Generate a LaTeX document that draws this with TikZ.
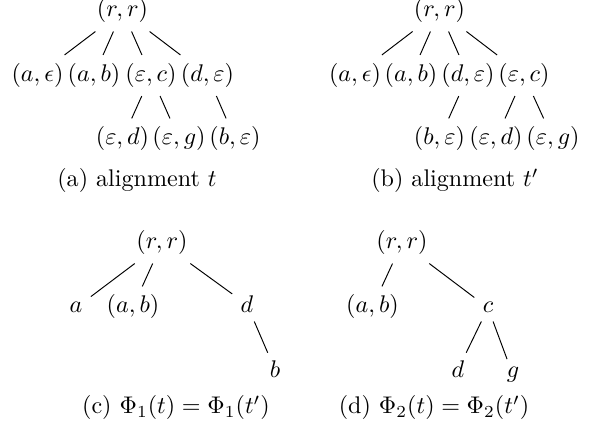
\documentclass[tikz,border=0pt]{standalone}
\begin{document}
\begin{tikzpicture}[x=0.415pt,y=-0.415pt,
  tn/.style={anchor=base,inner sep=3.33pt},
  edge/.style={line width=0.4pt}]
\useasboundingbox (0,0) rectangle (601,428);
% (a)
\node[tn] (a0) at (122.5,17) {$(r,r)$};
\node[tn] (a1) at (37.5,81.5) {$(a,\epsilon)$};
\node[tn] (a2) at (94,81.5) {$(a,b)$};
\node[tn] (a3) at (151,81.5) {$(\varepsilon,c)$};
\node[tn] (a4) at (207.5,81.5) {$(d,\varepsilon)$};
\node[tn] (a5) at (122.5,145) {$(\varepsilon,d)$};
\node[tn] (a6) at (179,145) {$(\varepsilon,g)$};
\node[tn] (a7) at (235,145) {$(b,\varepsilon)$};
\node[anchor=base] (capa) at (137,187) {(a) alignment $t$};
\foreach \c in {a1,a2,a3,a4} \draw[edge] (a0) -- (\c);
\draw[edge] (a3) -- (a5);
\draw[edge] (a3) -- (a6);
\draw[edge] (a4) -- (a7);
% (b)
\node[tn] (b0) at (439.5,17) {$(r,r)$};
\node[tn] (b1) at (355,81.5) {$(a,\epsilon)$};
\node[tn] (b2) at (411,81.5) {$(a,b)$};
\node[tn] (b3) at (468,81.5) {$(d,\varepsilon)$};
\node[tn] (b4) at (524,81.5) {$(\varepsilon,c)$};
\node[tn] (b5) at (439.5,145) {$(b,\varepsilon)$};
\node[tn] (b6) at (496,145) {$(\varepsilon,d)$};
\node[tn] (b7) at (553,145) {$(\varepsilon,g)$};
\node[anchor=base] (capb) at (455,187) {(b) alignment $t'$};
\foreach \c in {b1,b2,b3,b4} \draw[edge] (b0) -- (\c);
\draw[edge] (b3) -- (b5);
\draw[edge] (b4) -- (b6);
\draw[edge] (b4) -- (b7);
% (c)
\node[tn] (c0) at (162,249) {$(r,r)$};
\node[tn] (c1) at (76,313) {$a$};
\node[tn] (c2) at (133,313) {$(a,b)$};
\node[tn] (c3) at (247,313) {$d$};
\node[tn] (c4) at (275,378) {$b$};
\node[anchor=base] (capc) at (176,414) {(c) $\Phi_1(t)=\Phi_1(t')$};
\foreach \c in {c1,c2,c3} \draw[edge] (c0) -- (\c);
\draw[edge] (c3) -- (c4);
% (d)
\node[tn] (d0) at (402,249) {$(r,r)$};
\node[tn] (d1) at (372.5,313) {$(a,b)$};
\node[tn] (d2) at (488,313) {$c$};
\node[tn] (d3) at (458,378) {$d$};
\node[tn] (d4) at (513,378) {$g$};
\node[anchor=base] (capd) at (434,414) {(d) $\Phi_2(t)=\Phi_2(t')$};
\draw[edge] (d0) -- (d1);
\draw[edge] (d0) -- (d2);
\draw[edge] (d2) -- (d3);
\draw[edge] (d2) -- (d4);
\end{tikzpicture}
\end{document}
